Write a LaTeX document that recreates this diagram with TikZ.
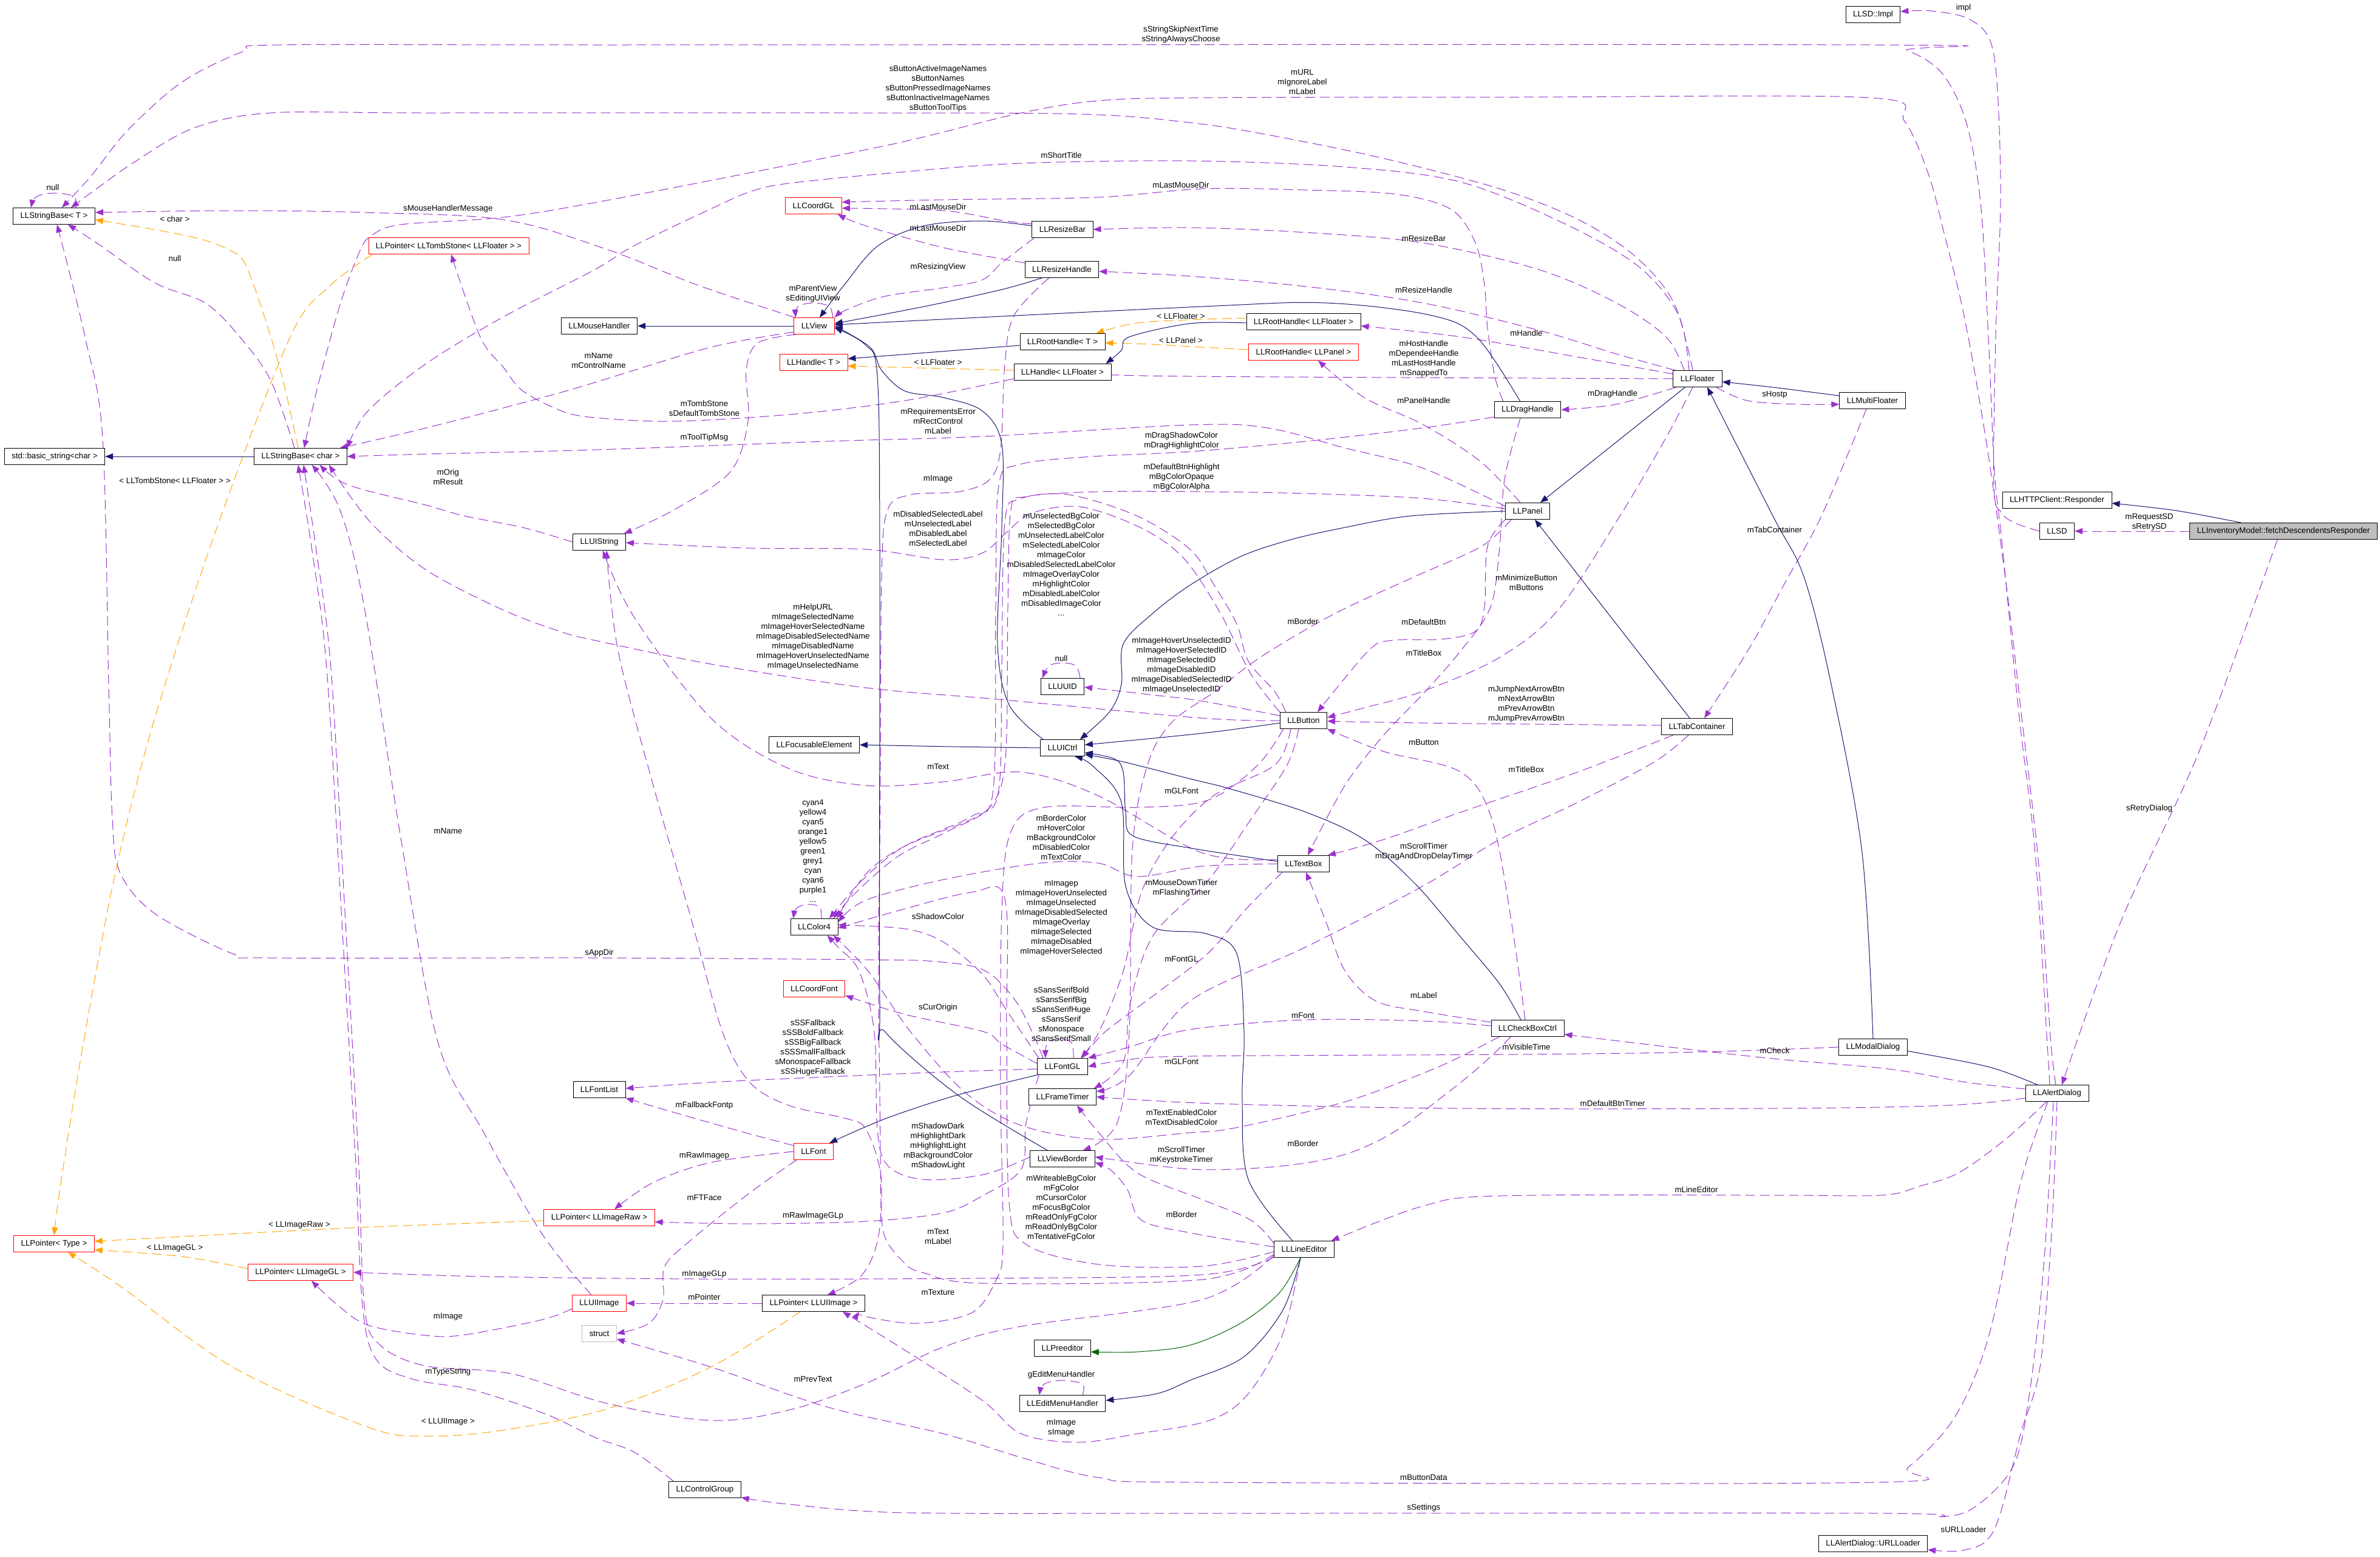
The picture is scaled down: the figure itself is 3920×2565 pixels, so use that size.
\documentclass[tikz,border=0pt]{standalone}
\usepackage{fontspec}
\setmainfont{Liberation Sans}
\usetikzlibrary{arrows.meta,calc}
\definecolor{dpurple}{HTML}{9A32CD}
\definecolor{dnavy}{HTML}{191970}
\definecolor{dorange}{HTML}{FFA500}
\definecolor{dgreen}{HTML}{006400}
\definecolor{dgray}{HTML}{BFBFBF}
\newcommand\dxf{\fontsize{6.65}{8}\selectfont}
\pgfdeclarelayer{bg}
\pgfsetlayers{bg,main}
\tikzset{
  cls/.style={draw=black, fill=white, line width=0.45pt, inner xsep=6pt, inner ysep=0pt, minimum height=13.5pt, font=\dxf},
  rcls/.style={cls, draw=red},
  lbl/.style={inner sep=0pt, align=center, font=\dxf},
  dxtip/.style={-{Triangle[length=6.5pt,width=5pt]}},
  pedge/.style={draw=dpurple, line width=0.5pt, dash pattern=on 8pt off 4pt, dxtip},
  oedge/.style={draw=dorange, line width=0.5pt, dash pattern=on 8pt off 4pt, dxtip},
  nedge/.style={draw=dnavy, line width=0.5pt, dxtip},
  gedge/.style={draw=dgreen, line width=0.5pt, dxtip},
  smo/.style={smooth, tension=0.55}
}
\begin{document}
\begin{tikzpicture}[x=0.5pt,y=-0.5pt]
\useasboundingbox (0,0) rectangle (3920,2565);
% ---------------- classes
\node[cls] (sbT) at (89,356) {LLStringBase< T >};
\node[cls] (bstr) at (90,752) {std::basic\_string<char >};
\node[cls] (sbc) at (495,752) {LLStringBase< char >};
\node[rcls] (ptomb) at (739,405) {LLPointer< LLTombStone< LLFloater > >};
\node[cls] (mouse) at (987,537) {LLMouseHandler};
\node[rcls] (view) at (1341,537) {LLView};
\node[rcls] (cgl) at (1340,339) {LLCoordGL};
\node[cls] (rbar) at (1750,378) {LLResizeBar};
\node[cls] (rhandle) at (1749,444) {LLResizeHandle};
\node[cls] (rootT) at (1750,563) {LLRootHandle< T >};
\node[rcls] (handleT) at (1340,597) {LLHandle< T >};
\node[cls] (handleF) at (1750,613) {LLHandle< LLFloater >};
\node[cls] (rootF) at (2147,530) {LLRootHandle< LLFloater >};
\node[rcls] (rootP) at (2147,580) {LLRootHandle< LLPanel >};
\node[cls] (floater) at (2796,624) {LLFloater};
\node[cls] (drag) at (2516,675) {LLDragHandle};
\node[cls] (panel) at (2516,842) {LLPanel};
\node[cls] (multi) at (3084,660) {LLMultiFloater};
\node[cls] (sdimpl) at (3085,24) {LLSD::Impl};
\node[cls] (http) at (3388,824) {LLHTTPClient::Responder};
\node[cls] (llsd) at (3388,875) {LLSD};
\node[cls, fill=dgray] (inv) at (3761,875) {LLInventoryModel::fetchDescendentsResponder};
\node[cls] (uistr) at (987,893) {LLUIString};
\node[cls] (focus) at (1341,1227) {LLFocusableElement};
\node[cls] (uuid) at (1750,1131) {LLUUID};
\node[cls] (uictrl) at (1750,1232) {LLUICtrl};
\node[cls] (color) at (1341,1527) {LLColor4};
\node[rcls] (cfont) at (1341,1629) {LLCoordFont};
\node[cls] (button) at (2147,1187) {LLButton};
\node[cls] (tab) at (2795,1197) {LLTabContainer};
\node[cls] (textbox) at (2147,1423) {LLTextBox};
\node[cls] (check) at (2516,1694) {LLCheckBoxCtrl};
\node[cls] (modal) at (3085,1725) {LLModalDialog};
\node[cls] (alert) at (3388,1801) {LLAlertDialog};
\node[cls] (fontgl) at (1750,1757) {LLFontGL};
\node[cls] (timer) at (1750,1807) {LLFrameTimer};
\node[cls] (fontlist) at (987,1795) {LLFontList};
\node[rcls] (font) at (1340,1897) {LLFont};
\node[cls] (border) at (1750,1909) {LLViewBorder};
\node[rcls] (praw) at (987,2006) {LLPointer< LLImageRaw >};
\node[rcls] (ptype) at (89,2049) {LLPointer< Type >};
\node[rcls] (pgl) at (495,2096) {LLPointer< LLImageGL >};
\node[rcls] (uiimg) at (987,2147) {LLUIImage};
\node[cls, draw=dgray] (struct) at (987,2197) {struct};
\node[cls] (puiimg) at (1340,2147) {LLPointer< LLUIImage >};
\node[cls] (line) at (2148,2058) {LLLineEditor};
\node[cls] (pre) at (1750,2221) {LLPreeditor};
\node[cls] (edit) at (1750,2312) {LLEditMenuHandler};
\node[cls] (ctrlgrp) at (1161,2454) {LLControlGroup};
\node[cls] (urll) at (3085,2543) {LLAlertDialog::URLLoader};

\begin{pgfonlayer}{bg}
\fill[white] (0,0) rectangle (3920,2565);
% ---------------- purple (usage) edges
\draw[pedge] plot[smo] coordinates {($(alert.north)+(-12,0)$) (3372,1720) (3352,1405) (3326,1183) (3298,900) (3285,777) (3275,555) (3262,333) (3238,200) (3198,120) (3141,83) (3084,74) (1000,74) (460,74) (400,85) (300,135) (210,215) (150,290) ($(sbT.north)+(13,0)$)};
\draw[pedge] plot[smo] coordinates {($(floater.north)+(-8,0)$) (2757,499) (2693,422) (2598,361) (2470,311) (2279,261) (2088,222) (1960,202) (1780,188) (1400,186) (700,186) (446,186) (319,211) (223,266) (159,311) ($(sbT.north)+(28,0)$)};
\draw[pedge] plot[smo] coordinates {($(sbT.north)+(36,0)$) (122,324) (90,318) (60,324) ($(sbT.north)+(-38,0)$)};
\draw[pedge] plot[smo] coordinates {($(view.north west)+(2,0)$) (1150,470) (1000,411) (830,362) (600,350) (380,347) ($(sbT.east)+(0,-6)$)};
\draw[pedge] plot[smo] coordinates {($(sbc.north)+(-10,0)$) (446,627) (395,555) (338,499) (255,466) (159,400) ($(sbT.south)+(23,0)$)};
\draw[pedge] plot[smo] coordinates {($(fontgl.north west)+(10,0)$) (1700,1700) (1670,1645) (1620,1598) (1540,1584) (1426,1581) (980,1578) (446,1578) (383,1571) (255,1505) (198,1438) (185,1349) (179,1127) (169,721) (140,555) ($(sbT.south)+(5,0)$)};
\draw[pedge] plot[smo] coordinates {($(alert.north)+(-2,0)$) (3378,1720) (3368,1571) (3356,1405) (3330,1183) (3311,1016) (3292,870) (3279,777) (3266,694) (3247,583) (3228,488) (3203,388) (3177,289) (3137,200) (3079,161) (2500,160) (1980,161) (1809,166) (1682,186) (1490,233) (1299,272) (1000,330) (829,358) (660,370) (612,388) (593,413) (561,499) (523,638) ($(sbc.north)+(6,0)$)};
\draw[pedge] plot[smo] coordinates {($(floater.north)+(-14,0)$) (2765,520) (2700,440) (2580,370) (2406,300) (2215,275) (1960,265) (1682,269) (1490,283) (1299,302) (1235,316) (1171,344) (1044,405) (980,444) (829,522) (702,599) (606,677) (sbc.north east)};
\draw[pedge] plot[smo] coordinates {($(view.south west)+(0,-4)$) (1171,572) (980,630) (893,655) (702,705) ($(sbc.north east)+(-12,0)$)};
\draw[pedge] plot[smo] coordinates {(uistr.west) (861,869) (765,850) (701,832) (574,799) ($(sbc.south east)+(-45,0)$)};
\draw[pedge] plot[smo] coordinates {($(panel.west)+(0,-8)$) (2343,771) (2215,738) (2088,705) (1960,700) (1618,719) (1363,727) (980,741) (700,748) (sbc.east)};
\draw[pedge] plot[smo] coordinates {($(line.south west)+(0,-4)$) (1980,2141) (1682,2185) (1554,2219) (1426,2279) (1299,2323) (1171,2340) (1000,2312) (842,2263) (700,2250) (625,2215) (600,2150) (590,1900) (568,1500) (545,1100) (520,900) ($(sbc.south)+(5,0)$)};
\draw[pedge] plot[smo] coordinates {($(ctrlgrp.north west)+(8,0)$) (1044,2392) (980,2368) (900,2330) (780,2290) (680,2272) (620,2240) (597,2150) (585,1900) (562,1500) (538,1100) (513,900) ($(sbc.south)+(-4,0)$)};
\draw[pedge] plot[smo] coordinates {($(uiimg.north)+(-13,0)$) (893,2033) (797,1866) (721,1716) (660,1380) (600,1000) (560,840) ($(sbc.south east)+(-58,0)$)};
\draw[pedge] plot[smo] coordinates {(button.west) (1980,1183) (1643,1152) (1426,1133) (1171,1094) (980,1055) (925,1041) (829,1005) (702,939) (610,860) ($(sbc.south east)+(-30,0)$)};
\draw[pedge] plot[smo] coordinates {($(handleF.south west)+(0,-3)$) (1490,660) (1299,683) (1108,694) (980,688) (925,677) (861,644) (829,605) (791,555) ($(ptomb.south)+(4,0)$)};
\draw[pedge] plot[smo] coordinates {($(view.north east)+(-3,0)$) (1366,505) (1340,499) (1314,505) ($(view.north west)+(3,0)$)};
\draw[pedge] plot[smo] coordinates {($(rbar.south west)+(4,0)$) (1650,433) (1618,461) (1554,474) (1458,488) (1395,510) (view.north east)};
\draw[pedge] plot[smo] coordinates {($(drag.north west)+(15,0)$) (2462,620) (2450,540) (2445,470) (2430,400) (2390,345) (2300,320) (2150,313) (1980,311) (1809,325) (1554,329) ($(cgl.east)+(0,-6)$)};
\draw[pedge] plot[smo] coordinates {($(rbar.west)+(0,-9)$) (1650,363) (1554,347) ($(cgl.east)+(0,4)$)};
\draw[pedge] plot[smo] coordinates {($(rhandle.north west)+(0,3)$) (1554,408) (1426,372) ($(cgl.south east)+(-7,0)$)};
\draw[pedge] plot[smo] coordinates {($(floater.north)+(-22,0)$) (2744,555) (2662,499) (2534,444) (2343,400) (2151,383) (1960,375) (rbar.east)};
\draw[pedge] plot[smo] coordinates {($(floater.north west)+(4,0)$) (2662,583) (2534,544) (2343,499) (2151,472) (1960,455) ($(rhandle.east)+(0,3)$)};
\draw[pedge] plot[smo] coordinates {($(floater.west)+(0,-8)$) (2598,588) (2406,555) ($(rootF.east)+(0,7)$)};
\draw[pedge] plot[smo] coordinates {(floater.west) (1960,620) ($(handleF.east)+(0,3)$)};
\draw[pedge] plot[smo] coordinates {($(floater.south west)+(5,0)$) (2662,666) (drag.east)};
\draw[pedge] plot[smo] coordinates {($(floater.south east)+(-10,0)$) (2878,660) (2960,666) ($(multi.west)+(0,6)$)};
\draw[pedge] plot[smo] coordinates {($(panel.north)+(-12,0)$) (2438,760) (2343,699) (2247,655) ($(rootP.south)+(24,0)$)};
\draw[pedge] (inv.west) -- (llsd.east);
\draw[pedge] plot[smo] coordinates {(llsd.west) (3320,862) (3297,845) (3284,800) (3287,555) (3295,333) (3290,150) (3277,65) (3240,30) (3180,18) ($(sdimpl.east)+(0,-5)$)};
\draw[pedge] plot[smo] coordinates {($(inv.south)+(-10,0)$) (3622,1238) (3494,1516) ($(alert.north)+(8,0)$)};
\draw[pedge] plot[smo] coordinates {(alert.south) (3379,2031) (3360,2252) (3328,2362) (3296,2489) (3271,2539) (3226,2555) ($(urll.east)+(0,10)$)};
\draw[pedge] plot[smo] coordinates {($(alert.south)+(-6,0)$) (3366,2086) (3341,2307) (3315,2417) (3252,2483) (3194,2499) (3092,2493) (1980,2493) (1490,2492) (1299,2478) ($(ctrlgrp.east)+(0,13)$)};
\draw[pedge] plot[smo] coordinates {($(alert.south)+(-15,0)$) (3328,1948) (3277,2196) (3220,2334) (3143,2417) (3086,2442) (1980,2442) (1809,2434) (1682,2401) (1554,2362) (1363,2318) (1171,2252) ($(struct.east)+(0,9)$)};
\draw[pedge] plot[smo] coordinates {($(alert.south west)+(35,0)$) (3303,1877) (3226,1932) (3162,1954) (3099,1969) (2920,1969) (2470,1970) (2343,1987) ($(line.north east)+(-5,0)$)};
\draw[pedge] plot[smo] coordinates {($(alert.west)+(0,8)$) (3207,1821) (2920,1826) (2400,1826) (2000,1818) (timer.east)};
\draw[pedge] plot[smo] coordinates {($(alert.west)+(0,-7)$) (3239,1783) (3111,1761) (2920,1744) (2725,1722) ($(check.south east)+(0,-4)$)};
\draw[pedge] plot[smo] coordinates {(modal.west) (2800,1733) (2500,1737) (1960,1740) (1850,1747) (fontgl.east)};
\draw[pedge] plot[smo] coordinates {($(multi.south)+(-10,0)$) (3000,850) (2940,960) (2880,1070) ($(tab.north)+(12,0)$)};
\draw[pedge] plot[smo] coordinates {($(tab.west)+(0,-2)$) (2343,1191) ($(button.east)+(0,1)$)};
\draw[pedge] plot[smo] coordinates {($(tab.south west)+(20,0)$) (2598,1272) (2406,1338) (2279,1383) ($(textbox.north east)+(-3,0)$)};
\draw[pedge] plot[smo] coordinates {($(tab.south west)+(45,0)$) (2725,1255) (2598,1322) (2470,1383) (2343,1460) (2151,1560) (1960,1649) (1860,1772) ($(timer.north east)+(0,5)$)};
\draw[pedge] plot[smo] coordinates {($(floater.south)+(-8,0)$) (2744,721) (2668,850) (2566,1005) (2470,1083) (2343,1139) (2247,1166) ($(button.east)+(0,-5)$)};
\draw[pedge] plot[smo] coordinates {(panel.south west) (2450,900) (2445,1000) (2430,1040) (2375,1053) (2292,1055) (2254,1072) ($(button.north)+(23,0)$)};
\draw[pedge] plot[smo] coordinates {($(drag.south)+(-12,0)$) (2478,790) (2470,900) (2455,1000) (2406,1072) (2343,1144) (2279,1211) (2215,1294) ($(textbox.north)+(7,0)$)};
\draw[pedge] plot[smo] coordinates {($(check.north)+(-4,0)$) (2489,1516) (2457,1349) (2406,1272) (2279,1238) (button.south east)};
\draw[pedge] plot[smo] coordinates {($(check.west)+(0,-10)$) (2343,1666) (2266,1649) (2215,1599) (2183,1516) ($(textbox.south)+(4,0)$)};
\draw[pedge] plot[smo] coordinates {($(check.west)+(0,-4)$) (2343,1682) (2151,1680) (1960,1696) (1860,1725) (fontgl.north east)};
\draw[pedge] plot[smo] coordinates {($(check.south west)+(33,0)$) (2457,1739) (2406,1783) (2311,1855) (2247,1890) (2183,1910) (2088,1923) (1960,1926) ($(border.east)+(0,-3)$)};
\draw[pedge] plot[smo] coordinates {($(check.south west)+(14,0)$) (2375,1755) (2247,1805) (2151,1832) (2024,1860) (1960,1866) (1809,1877) (1682,1854) (1590,1800) (1500,1700) (1430,1600) ($(color.south east)+(-8,0)$)};
\draw[pedge] plot[smo] coordinates {($(line.west)+(0,-4)$) (1960,2031) (1880,2010) (1857,1960) (1830,1928) ($(border.east)+(0,6)$)};
\draw[pedge] plot[smo] coordinates {($(panel.south west)+(10,0)$) (2440,900) (2330,950) (2200,1010) (2080,1080) (2000,1140) (1930,1190) (1890,1260) (1865,1400) (1860,1700) (1840,1850) ($(border.north east)+(-20,0)$)};
\draw[pedge] plot[smo] coordinates {($(line.north west)+(0,4)$) (2060,2010) (1980,1976) (1873,1932) (1809,1865) ($(timer.south)+(24,0)$)};
\draw[pedge] plot[smo] coordinates {($(line.west)+(0,4)$) (1980,2086) (1810,2083) (1690,2050) (1662,1980) (1658,1700) (1655,1480) (1600,1470) (1480,1500) ($(color.east)+(0,2)$)};
\draw[pedge] plot[smo] coordinates {($(line.west)+(0,8)$) (1980,2108) (1618,2114) (1522,2097) (1490,2081) (1455,2030) (1450,1930) (1426,1860) (1395,1843) (1299,1821) (1235,1783) (1190,1700) (1139,1516) (1076,1294) (1018,1072) ($(uistr.south)+(12,0)$)};
\draw[pedge] plot[smo] coordinates {($(line.south west)+(0,-1)$) (1980,2100) (1600,2106) (1160,2107) (800,2103) (pgl.east)};
\draw[pedge] plot[smo] coordinates {($(line.south)+(-6,0)$) (2113,2197) (2056,2296) (1992,2340) (1873,2362) (1777,2376) (1682,2362) (1618,2307) (1490,2224) ($(puiimg.south east)+(-37,0)$)};
\draw[pedge] plot[smo] coordinates {($(button.south west)+(6,0)$) (2070,1262) (1990,1318) (1880,1330) (1720,1330) (1665,1370) (1650,1500) (1648,1800) (1652,2050) (1640,2110) (1600,2163) (1509,2180) (1426,2169) ($(puiimg.south east)+(-10,0)$)};
\draw[pedge] plot[smo] coordinates {($(button.north west)+(10,0)$) (2100,1140) (2056,1089) (2037,1028) (1998,961) (1960,905) (1873,850) (1760,815) (1680,822) (1655,860) (1650,1100) (1645,1300) (1611,1344) (1490,1394) (1426,1440) ($(color.north east)+(-2,0)$)};
\draw[pedge] plot[smo] coordinates {(button.north west) (2060,1110) (2010,1010) (1950,920) (1880,870) (1780,835) (1700,845) (1660,875) (1618,911) (1554,922) (1426,905) (1235,903) ($(uistr.east)+(0,1)$)};
\draw[pedge] plot[smo] coordinates {($(panel.west)+(0,-4)$) (2343,821) (2151,813) (1980,810) (1809,810) (1690,818) (1665,840) (1660,1000) (1656,1250) (1630,1330) (1560,1370) (1480,1410) (1410,1470) ($(color.north east)+(-8,0)$)};
\draw[pedge] plot[smo] coordinates {($(drag.south west)+(0,-2)$) (2343,705) (2151,727) (1960,744) (1800,752) (1680,765) (1645,800) (1640,1000) (1636,1300) (1600,1345) (1490,1394) (1420,1450) ($(color.north)+(25,0)$)};
\draw[pedge] plot[smo] coordinates {(textbox.west) (1980,1427) (1873,1444) (1809,1422) (1713,1422) (1554,1449) (1426,1483) ($(color.east)+(0,-8)$)};
\draw[pedge] plot[smo] coordinates {($(textbox.west)+(0,-7)$) (1980,1405) (1809,1311) (1682,1272) (1554,1288) (1426,1294) (1299,1266) (1171,1183) (1044,1016) ($(uistr.south)+(6,0)$)};
\draw[pedge] plot[smo] coordinates {($(textbox.south west)+(8,0)$) (2050,1500) (1990,1570) (1900,1640) (1820,1700) ($(fontgl.north east)+(-10,0)$)};
\draw[pedge] plot[smo] coordinates {($(button.south west)+(18,0)$) (2100,1260) (2000,1310) (1930,1380) (1880,1470) (1850,1600) (1810,1700) ($(fontgl.north)+(30,0)$)};
\draw[pedge] plot[smo] coordinates {($(button.south)+(-8,0)$) (2120,1260) (2060,1350) (1990,1450) (1900,1540) (1862,1650) (1850,1750) ($(timer.north east)+(-4,0)$)};
\draw[pedge] plot[smo] coordinates {($(button.west)+(0,-8)$) (1980,1155) (1900,1145) ($(uuid.east)+(0,1)$)};
\draw[pedge] plot[smo] coordinates {($(uuid.north east)+(-7,0)$) (1772,1097) (1750,1092) (1728,1097) ($(uuid.north west)+(3,0)$)};
\draw[pedge] plot[smo] coordinates {($(color.north)+(12,0)$) (1350,1494) (1330,1490) (1312,1496) ($(color.north west)+(5,0)$)};
\draw[pedge] plot[smo] coordinates {($(fontgl.north)+(18,0)$) (1765,1718) (1745,1712) (1725,1718) ($(fontgl.north)+(-28,0)$)};
\draw[pedge] plot[smo] coordinates {($(fontgl.north west)+(3,0)$) (1655,1660) (1618,1605) (1554,1552) (1490,1530) ($(color.east)+(0,-3)$)};
\draw[pedge] plot[smo] coordinates {($(fontgl.west)+(0,-5)$) (1650,1720) (1618,1699) (1490,1671) ($(cfont.south east)+(0,-3)$)};
\draw[pedge] plot[smo] coordinates {($(fontgl.west)+(0,4)$) (1554,1766) (1363,1774) (1171,1783) ($(fontlist.east)+(0,-2)$)};
\draw[pedge] plot[smo] coordinates {($(font.north west)+(0,4)$) (1235,1868) (1108,1832) (fontlist.south east)};
\draw[pedge] plot[smo] coordinates {(font.west) (1171,1915) (1076,1948) ($(praw.north)+(25,0)$)};
\draw[pedge] plot[smo] coordinates {($(fontgl.south west)+(3,0)$) (1690,1850) (1682,1926) (1618,1970) (1554,1998) (1426,2012) (1235,2016) ($(praw.east)+(0,7)$)};
\draw[pedge] plot[smo] coordinates {($(font.south)+(-28,0)$) (1235,1965) (1139,2042) (1095,2086) (1092,2141) (1069,2180) (struct.east)};
\draw[pedge] plot[smo] coordinates {($(border.west)+(0,-3)$) (1620,1935) (1520,1943) (1462,1920) (1445,1860) (1440,1700) (1415,1600) (1380,1560) ($(color.south east)+(-18,0)$)};
\draw[pedge] plot[smo] coordinates {($(uiimg.west)+(0,9)$) (893,2174) (765,2199) (702,2200) (606,2183) (555,2149) ($(pgl.south)+(18,0)$)};
\draw[pedge] (puiimg.west) -- (uiimg.east);
\draw[pedge] plot[smo] coordinates {($(rhandle.south west)+(40,0)$) (1670,520) (1655,600) (1648,740) (1630,790) (1580,810) (1500,815) (1462,840) (1452,950) (1450,1300) (1447,1600) (1450,1900) (1448,2030) (1420,2100) ($(puiimg.north)+(23,0)$)};
\draw[pedge] plot[smo] coordinates {($(edit.north east)+(-38,0)$) (1783,2280) (1750,2274) (1720,2280) ($(edit.north west)+(33,0)$)};
\draw[pedge] plot[smo] coordinates {($(view.south west)+(4,0)$) (1248,565) (1229,610) (1232,694) (1203,777) (1110,840) ($(uistr.north east)+(-3,0)$)};
% ---------------- orange (template) edges
\draw[oedge] plot[smo] coordinates {($(sbc.north)+(-4,0)$) (459,599) (408,444) (376,411) (306,388) ($(sbT.east)+(0,6)$)};
\draw[oedge] plot[smo] coordinates {($(ptomb.south west)+(7,0)$) (542,472) (478,555) (357,870) (255,1183) (191,1433) (137,1720) (100,1950) (ptype.north)};
\draw[oedge] plot[smo] coordinates {($(rootF.west)+(0,-6)$) (1980,526) (1873,532) ($(rootT.north east)+(-15,0)$)};
\draw[oedge] plot[smo] coordinates {($(rootP.west)+(0,-4)$) (1980,572) (1892,567) ($(rootT.east)+(0,2)$)};
\draw[oedge] ($(handleF.west)+(0,-3)$) -- ($(handleT.east)+(0,6)$);
\draw[oedge] plot[smo] coordinates {($(praw.west)+(0,5)$) (574,2023) ($(ptype.east)+(0,-4)$)};
\draw[oedge] plot[smo] coordinates {($(pgl.west)+(0,-6)$) (300,2070) ($(ptype.east)+(0,10)$)};
\draw[oedge] plot[smo] coordinates {($(puiimg.south)+(-22,0)$) (1171,2252) (1000,2321) (829,2356) (702,2366) (606,2351) (383,2252) (200,2120) ($(ptype.south)+(23,0)$)};
% ---------------- navy (inheritance) edges
\draw[nedge] (sbc.west) -- (bstr.east);
\draw[nedge] (view.west) -- (mouse.east);
\draw[nedge] plot[smo] coordinates {($(rbar.west)+(0,-6)$) (1618,364) (1522,372) (1446,405) (1390,470) ($(view.north)+(9,0)$)};
\draw[nedge] plot[smo] coordinates {($(rhandle.south west)+(28,0)$) (1650,477) (1522,505) ($(view.east)+(0,-4)$)};
\draw[nedge] plot[smo] coordinates {($(drag.north west)+(43,0)$) (2432,555) (2355,519) (2183,499) (1980,505) ($(view.east)+(0,-2)$)};
\draw[nedge] plot[smo] coordinates {($(uictrl.north west)+(5,0)$) (1662,1161) (1643,1061) (1650,870) (1650,732) (1618,677) (1554,655) (1490,644) (1452,610) (1433,572) (view.east)};
\draw[nedge] plot[smo] coordinates {($(border.north west)+(29,0)$) (1579,1805) (1458,1700) (1449,1650) (1449,900) (1445,620) (1425,568) ($(view.east)+(0,3)$)};
\draw[nedge] plot[smo] coordinates {(uictrl.west) (1567,1230) (focus.east)};
\draw[nedge] plot[smo] coordinates {(panel.west) (2323,850) (2215,869) (2126,889) (2043,917) (1960,964) (1898,1011) (1850,1061) (1847,1127) (1828,1172) ($(uictrl.north east)+(-8,0)$)};
\draw[nedge] plot[smo] coordinates {($(button.west)+(0,4)$) (1980,1208) ($(uictrl.east)+(0,-5)$)};
\draw[nedge] plot[smo] coordinates {($(textbox.west)+(0,-4)$) (1960,1397) (1866,1377) (1854,1338) (1850,1272) (1835,1250) ($(uictrl.east)+(0,8)$)};
\draw[nedge] plot[smo] coordinates {($(check.north)+(-11,0)$) (2470,1621) (2406,1544) (2330,1455) (2247,1383) (2151,1338) (2024,1299) (1960,1283) (1850,1255) ($(uictrl.south east)+(0,-3)$)};
\draw[nedge] plot[smo] coordinates {($(line.north)+(-19,0)$) (2056,1943) (2046,1810) (2049,1700) (2037,1571) (1986,1538) (1898,1527) (1854,1460) (1847,1322) (1800,1262) ($(uictrl.south)+(20,0)$)};
\draw[nedge] ($(floater.south west)+(20,0)$) -- ($(panel.north)+(21,0)$);
\draw[nedge] plot[smo] coordinates {($(multi.west)+(0,-8)$) (2920,638) ($(floater.east)+(0,5)$)};
\draw[nedge] ($(tab.north west)+(47,0)$) -- ($(panel.south)+(12,0)$);
\draw[nedge] plot[smo] coordinates {(modal.north) (3067,1405) (3016,1127) (2971,950) (2920,850) ($(floater.south)+(16,0)$)};
\draw[nedge] plot[smo] coordinates {($(alert.north west)+(20,0)$) (3277,1758) (3156,1734) ($(modal.east)+(0,7)$)};
\draw[nedge] plot[smo] coordinates {($(inv.north west)+(85,0)$) (3583,841) ($(http.east)+(0,5)$)};
\draw[nedge] plot[smo] coordinates {($(rootF.west)+(0,2)$) (1960,533) (1860,555) (1847,577) ($(handleF.north east)+(-9,0)$)};
\draw[nedge] ($(rootT.west)+(0,6)$) -- ($(handleT.east)+(0,-6)$);
\draw[nedge] plot[smo] coordinates {(fontgl.south west) (1573,1805) (1458,1843) ($(font.north east)+(-7,0)$)};
\draw[nedge] plot[smo] coordinates {($(line.south)+(-6,0)$) (2113,2158) (2049,2235) (1960,2274) (1905,2296) ($(edit.east)+(0,-5)$)};
\draw[gedge] plot[smo] coordinates {($(line.south)+(-6,0)$) (2107,2130) (2043,2180) (1960,2216) (1873,2227) ($(pre.east)+(0,6)$)};
\end{pgfonlayer}

% ---------------- labels
\node[lbl] (l1) at (87,309) {null};
\node[lbl] (l2) at (738,344) {sMouseHandlerMessage};
\node[lbl] (l3) at (288,361) {< char >};
\node[lbl] (l4) at (288,426) {null};
\node[lbl] (l5) at (986,594) {mName\\mControlName};
\node[lbl] (l6) at (288,792) {< LLTombStone< LLFloater > >};
\node[lbl] (l7) at (738,786) {mOrig\\mResult};
\node[lbl] (l8) at (1945,57) {sStringSkipNextTime\\sStringAlwaysChoose};
\node[lbl] (l9) at (1545,146) {sButtonActiveImageNames\\sButtonNames\\sButtonPressedImageNames\\sButtonInactiveImageNames\\sButtonToolTips};
\node[lbl] (l10) at (1748,256) {mShortTitle};
\node[lbl] (l11) at (1945,305) {mLastMouseDir};
\node[lbl] (l12) at (1545,341) {mLastMouseDir};
\node[lbl] (l13) at (1545,376) {mLastMouseDir};
\node[lbl] (l14) at (1545,440) {mResizingView};
\node[lbl] (l15) at (1339,484) {mParentView\\sEditingUIView};
\node[lbl] (l16) at (1945,521) {< LLFloater >};
\node[lbl] (l17) at (1945,561) {< LLPanel >};
\node[lbl] (l18) at (1545,597) {< LLFloater >};
\node[lbl] (l19) at (1160,673) {mTombStone\\sDefaultTombStone};
\node[lbl] (l20) at (1545,694) {mRequirementsError\\mRectControl\\mLabel};
\node[lbl] (l21) at (1160,721) {mToolTipMsg};
\node[lbl] (l22) at (1946,726) {mDragShadowColor\\mDragHighlightColor};
\node[lbl] (l23) at (1946,786) {mDefaultBtnHighlight\\mBgColorOpaque\\mBgColorAlpha};
\node[lbl] (l24) at (1545,789) {mImage};
\node[lbl] (l25) at (1545,871) {mDisabledSelectedLabel\\mUnselectedLabel\\mDisabledLabel\\mSelectedLabel};
\node[lbl] (l26) at (1748,930) {mUnselectedBgColor\\mSelectedBgColor\\mUnselectedLabelColor\\mSelectedLabelColor\\mImageColor\\mDisabledSelectedLabelColor\\mImageOverlayColor\\mHighlightColor\\mDisabledLabelColor\\mDisabledImageColor\\...};
\node[lbl] (l27) at (2145,135) {mURL\\mIgnoreLabel\\mLabel};
\node[lbl] (l28) at (2345,393) {mResizeBar};
\node[lbl] (l29) at (2345,478) {mResizeHandle};
\node[lbl] (l30) at (2514,549) {mHandle};
\node[lbl] (l31) at (2345,591) {mHostHandle\\mDependeeHandle\\mLastHostHandle\\mSnappedTo};
\node[lbl] (l32) at (2656,649) {mDragHandle};
\node[lbl] (l33) at (2345,660) {mPanelHandle};
\node[lbl] (l34) at (2923,650) {sHostp};
\node[lbl] (l35) at (3234,13) {impl};
\node[lbl] (l36) at (3540,860) {mRequestSD\\sRetrySD};
\node[lbl] (l37) at (738,1369) {mName};
\node[lbl] (l38) at (987,1570) {sAppDir};
\node[lbl] (l39) at (1339,1049) {mHelpURL\\mImageSelectedName\\mImageHoverSelectedName\\mImageDisabledSelectedName\\mImageDisabledName\\mImageHoverUnselectedName\\mImageUnselectedName};
\node[lbl] (l40) at (1748,1085) {null};
\node[lbl] (l41) at (1946,1096) {mImageHoverUnselectedID\\mImageHoverSelectedID\\mImageSelectedID\\mImageDisabledID\\mImageDisabledSelectedID\\mImageUnselectedID};
\node[lbl] (l42) at (1545,1263) {mText};
\node[lbl] (l43) at (1946,1303) {mGLFont};
\node[lbl] (l44) at (1339,1402) {cyan4\\yellow4\\cyan5\\orange1\\yellow5\\green1\\grey1\\cyan\\cyan6\\purple1\\...};
\node[lbl] (l45) at (1748,1380) {mBorderColor\\mHoverColor\\mBackgroundColor\\mDisabledColor\\mTextColor};
\node[lbl] (l46) at (1946,1463) {mMouseDownTimer\\mFlashingTimer};
\node[lbl] (l47) at (1748,1512) {mImagep\\mImageHoverUnselected\\mImageUnselected\\mImageDisabledSelected\\mImageOverlay\\mImageSelected\\mImageDisabled\\mImageHoverSelected};
\node[lbl] (l48) at (1545,1510) {sShadowColor};
\node[lbl] (l49) at (1946,1580) {mFontGL};
\node[lbl] (l50) at (1545,1660) {sCurOrigin};
\node[lbl] (l51) at (1748,1671) {sSansSerifBold\\sSansSerifBig\\sSansSerifHuge\\sSansSerif\\sMonospace\\sSansSerifSmall};
\node[lbl] (l52) at (1339,1726) {sSSFallback\\sSSBoldFallback\\sSSBigFallback\\sSSSmallFallback\\sMonospaceFallback\\sSSHugeFallback};
\node[lbl] (l53) at (2146,1024) {mBorder};
\node[lbl] (l54) at (2345,1025) {mDefaultBtn};
\node[lbl] (l55) at (2514,960) {mMinimizeButton\\mButtons};
\node[lbl] (l56) at (2345,1076) {mTitleBox};
\node[lbl] (l57) at (2514,1160) {mJumpNextArrowBtn\\mNextArrowBtn\\mPrevArrowBtn\\mJumpPrevArrowBtn};
\node[lbl] (l58) at (2345,1223) {mButton};
\node[lbl] (l59) at (2514,1268) {mTitleBox};
\node[lbl] (l60) at (2345,1403) {mScrollTimer\\mDragAndDropDelayTimer};
\node[lbl] (l61) at (2345,1640) {mLabel};
\node[lbl] (l62) at (2146,1673) {mFont};
\node[lbl] (l63) at (2923,873) {mTabContainer};
\node[lbl] (l64) at (3540,1332) {sRetryDialog};
\node[lbl] (l65) at (1946,1749) {mGLFont};
\node[lbl] (l66) at (1160,1821) {mFallbackFontp};
\node[lbl] (l67) at (1545,1888) {mShadowDark\\mHighlightDark\\mHighlightLight\\mBackgroundColor\\mShadowLight};
\node[lbl] (l68) at (1946,1841) {mTextEnabledColor\\mTextDisabledColor};
\node[lbl] (l69) at (1160,1904) {mRawImagep};
\node[lbl] (l70) at (1946,1903) {mScrollTimer\\mKeystrokeTimer};
\node[lbl] (l71) at (1160,1973) {mFTFace};
\node[lbl] (l72) at (1748,1990) {mWriteableBgColor\\mFgColor\\mCursorColor\\mFocusBgColor\\mReadOnlyFgColor\\mReadOnlyBgColor\\mTentativeFgColor};
\node[lbl] (l73) at (1946,2001) {mBorder};
\node[lbl] (l74) at (1339,2003) {mRawImageGLp};
\node[lbl] (l75) at (1545,2037) {mText\\mLabel};
\node[lbl] (l76) at (1160,2099) {mImageGLp};
\node[lbl] (l77) at (1545,2129) {mTexture};
\node[lbl] (l78) at (1160,2137) {mPointer};
\node[lbl] (l79) at (1339,2272) {mPrevText};
\node[lbl] (l80) at (1748,2265) {gEditMenuHandler};
\node[lbl] (l81) at (1748,2352) {mImage\\sImage};
\node[lbl] (l82) at (493,2018) {< LLImageRaw >};
\node[lbl] (l83) at (288,2056) {< LLImageGL >};
\node[lbl] (l84) at (738,2169) {mImage};
\node[lbl] (l85) at (738,2260) {mTypeString};
\node[lbl] (l86) at (738,2342) {< LLUIImage >};
\node[lbl] (l87) at (2514,1725) {mVisibleTime};
\node[lbl] (l88) at (2923,1731) {mCheck};
\node[lbl] (l89) at (2656,1818) {mDefaultBtnTimer};
\node[lbl] (l90) at (2146,1884) {mBorder};
\node[lbl] (l91) at (2794,1960) {mLineEditor};
\node[lbl] (l92) at (2345,2434) {mButtonData};
\node[lbl] (l93) at (2345,2484) {sSettings};
\node[lbl] (l94) at (3234,2520) {sURLLoader};
\end{tikzpicture}
\end{document}
